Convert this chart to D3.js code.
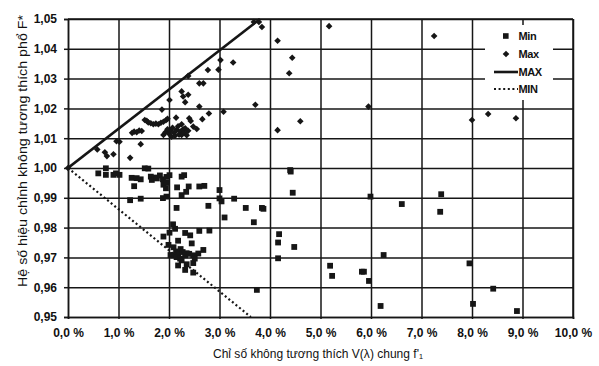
<!DOCTYPE html>
<html>
<head>
<meta charset="utf-8">
<script src="https://cdn.jsdelivr.net/npm/d3@7"></script>
<style>
  body { margin: 0; background: #fff; }
  text { font-family: "Liberation Sans", Arial, sans-serif; fill: #111; }
</style>
</head>
<body>
<div id="chart"></div>
<script>
// f1 in %, F* correction factor
var minPoints = [
  [0.60,0.9982],[0.75,0.9999],[0.75,0.9977],[0.90,0.9977],[0.95,0.9982],[1.02,0.9977],
  [1.23,0.9892],[1.31,0.9939],[1.26,0.9967],[1.36,0.9966],[1.44,0.9962],[1.44,0.9897],
  [1.52,0.9999],[1.59,0.9998],[1.64,0.9971],[1.66,0.9960],[1.72,0.9968],[1.76,0.9965],
  [1.82,0.9975],[1.88,0.9962],[1.89,0.9944],[1.95,0.9970],[2.01,0.9976],[1.95,0.9950],
  [1.94,0.9932],[1.88,0.9899],[1.95,0.9904],[2.16,0.9935],[2.25,0.9971],[2.30,0.9976],
  [2.25,0.9909],[2.34,0.9920],[2.39,0.9938],[2.60,0.9938],[2.70,0.9940],
  [2.15,0.9866],[2.78,0.9873],[3.00,0.9926],[3.00,0.9898],[3.04,0.9888],[3.10,0.9834],
  [3.29,0.9897],[3.52,0.9866],[3.68,0.9818],[3.84,0.9866],[3.87,0.9863],[3.74,0.9591],
  [2.08,0.9811],[2.12,0.9796],[1.89,0.9770],[2.01,0.9783],[1.99,0.9742],[2.18,0.9756],
  [2.32,0.9782],[2.42,0.9774],[2.45,0.9747],[2.60,0.9789],[2.80,0.9790],[2.68,0.9725],
  [2.58,0.9713],[2.09,0.9734],[2.14,0.9720],[2.18,0.9712],[2.23,0.9728],[2.27,0.9718],
  [2.09,0.9707],[2.15,0.9701],[2.22,0.9696],[2.32,0.9707],[2.35,0.9714],[2.40,0.9712],
  [2.48,0.9707],[2.51,0.9696],[2.03,0.9708],[2.25,0.9690],[2.18,0.9673],[2.35,0.9677],
  [2.48,0.9681],[2.32,0.9658],[2.48,0.9649],
  [4.18,0.9778],[4.16,0.9750],[4.16,0.9697],[4.48,0.9735],[4.40,0.9993],[4.41,0.9988],
  [4.45,0.9917],[5.19,0.9672],[5.23,0.9638],[5.82,0.9652],[5.86,0.9652],[5.96,0.9621],
  [5.99,0.9904],[6.19,0.9537],[6.25,0.9708],[6.61,0.9879],[7.39,0.9912],[7.37,0.9853],
  [7.95,0.9680],[8.02,0.9544],[8.42,0.9595],[8.89,0.9520]
];

var maxPoints = [
  [0.00,1.0000],[0.58,1.0062],[0.73,1.0053],[0.77,1.0040],[0.90,1.0046],[0.96,1.0090],
  [1.02,1.0088],[1.23,1.0034],[1.27,1.0118],[1.31,1.0122],[1.36,1.0120],[1.41,1.0126],
  [1.46,1.0124],[1.44,1.0080],[1.52,1.0161],[1.56,1.0158],[1.59,1.0153],[1.64,1.0150],
  [1.69,1.0147],[1.74,1.0149],[1.79,1.0147],[1.84,1.0152],[1.89,1.0155],[1.94,1.0160],
  [1.97,1.0165],[1.86,1.0196],[2.01,1.0228],[2.14,1.0169],
  [1.89,1.0111],[1.93,1.0120],[1.97,1.0130],[2.00,1.0115],[2.03,1.0125],[2.05,1.0105],
  [2.07,1.0135],[2.10,1.0118],[2.12,1.0108],[2.15,1.0128],[2.18,1.0140],[2.20,1.0112],
  [2.22,1.0122],[2.25,1.0111],[2.25,1.0147],[2.28,1.0130],[2.30,1.0118],[2.32,1.0133],
  [2.35,1.0110],[2.38,1.0125],[2.40,1.0167],[2.43,1.0158],[2.48,1.0139],[2.55,1.0131],
  [2.25,1.0257],[2.28,1.0240],[2.32,1.0221],[2.38,1.0246],[2.38,1.0309],
  [2.60,1.0206],[2.60,1.0284],[2.68,1.0284],[2.66,1.0164],[2.79,1.0183],[2.77,1.0329],
  [2.98,1.0330],[3.02,1.0362],[3.08,1.0189],[3.27,1.0354],
  [3.68,1.0490],[3.78,1.0490],[3.84,1.0473],[3.71,1.0212],
  [4.15,1.0427],[4.44,1.0370],[4.38,1.0318],[4.15,1.0127],[4.60,1.0157],
  [5.17,1.0476],[5.95,1.0206],[7.25,1.0443],[8.00,1.0161],[8.32,1.0181],[8.87,1.0167]
];

var maxLine = [[0, 1.00], [3.8, 1.05]];
var minLine = [[0, 1.00], [3.62, 0.95]];

var xTicks = [0,1,2,3,4,5,6,7,8,9,10];
var xTickLabels = ["0,0 %","1,0 %","2,0 %","3,0 %","4,0 %","5,0 %","6,0 %","7,0 %","8,0 %","9,0 %","10,0 %"];
var yTicks = [0.95,0.96,0.97,0.98,0.99,1.00,1.01,1.02,1.03,1.04,1.05];
var yTickLabels = ["0,95","0,96","0,97","0,98","0,99","1,00","1,01","1,02","1,03","1,04","1,05"];

var legendItems = ["Min", "Max", "MAX", "MIN"];
var xTitle = "Chỉ số không tương thích V(λ) chung f'₁";
var yTitle = "Hệ số hiệu chỉnh không tương thích phổ F*";

function init() {
  var w = 599, h = 366;
  var left = 68, right = 573, top = 19, bottom = 317;
  var ink = "#161616";

  var xscale = d3.scaleLinear().domain([0, 10]).range([left, right]);
  var yscale = d3.scaleLinear().domain([0.95, 1.05]).range([bottom, top]);

  var svg = d3.select("#chart").append("svg")
    .attr("width", w).attr("height", h);

  // grid
  svg.append("g")
    .attr("transform", "translate(" + left + ",0)")
    .call(d3.axisLeft(yscale).tickValues(yTicks).tickSize(-(right - left)).tickFormat(""))
    .call(function(g) { g.select(".domain").remove(); })
    .selectAll("line").attr("stroke", ink).attr("stroke-width", 1.5);

  svg.append("g")
    .attr("transform", "translate(0," + bottom + ")")
    .call(d3.axisBottom(xscale).tickValues(xTicks).tickSize(-(bottom - top)).tickFormat(""))
    .call(function(g) { g.select(".domain").remove(); })
    .selectAll("line").attr("stroke", ink).attr("stroke-width", 1.5);

  // legend box (white, covers the grid)
  svg.append("rect")
    .attr("x", 485).attr("y", 25).attr("width", 68).attr("height", 75)
    .attr("fill", "#fff");

  // axes with labels
  var yAxis = svg.append("g")
    .attr("transform", "translate(" + left + ",0)")
    .call(d3.axisLeft(yscale).tickValues(yTicks).tickSize(4).tickPadding(7)
      .tickFormat(function(d, i) { return yTickLabels[i]; }));
  yAxis.select(".domain").attr("stroke", ink).attr("stroke-width", 1.5);
  yAxis.selectAll("line").attr("stroke", ink).attr("stroke-width", 1.5);
  yAxis.selectAll("text")
    .style("font-family", "'Liberation Sans', Arial, sans-serif")
    .style("font-size", "12px").style("font-weight", "bold").attr("fill", ink);

  var xAxis = svg.append("g")
    .attr("transform", "translate(0," + bottom + ")")
    .call(d3.axisBottom(xscale).tickValues(xTicks).tickSize(2).tickPadding(9)
      .tickFormat(function(d, i) { return xTickLabels[i]; }));
  xAxis.select(".domain").attr("stroke", ink).attr("stroke-width", 1.5);
  xAxis.selectAll("line").attr("stroke", ink).attr("stroke-width", 1.5);
  xAxis.selectAll("text")
    .style("font-family", "'Liberation Sans', Arial, sans-serif")
    .style("font-size", "12px").style("font-weight", "bold").attr("fill", ink);

  // top and right border
  svg.append("line").attr("x1", left).attr("x2", right).attr("y1", top).attr("y2", top)
    .attr("stroke", ink).attr("stroke-width", 1.5);
  svg.append("line").attr("x1", right).attr("x2", right).attr("y1", top).attr("y2", bottom)
    .attr("stroke", ink).attr("stroke-width", 1.5);

  // clip for lines
  svg.append("clipPath").attr("id", "plot")
    .append("rect").attr("x", left).attr("y", top - 2)
    .attr("width", right - left).attr("height", bottom - top + 2);

  var line = d3.line()
    .x(function(d) { return xscale(d[0]); })
    .y(function(d) { return yscale(d[1]); });

  svg.append("path").datum(maxLine)
    .attr("d", line).attr("fill", "none")
    .attr("stroke", ink).attr("stroke-width", 2.6)
    .attr("clip-path", "url(#plot)");

  svg.append("path").datum(minLine)
    .attr("d", line).attr("fill", "none")
    .attr("stroke", ink).attr("stroke-width", 2.2)
    .attr("stroke-dasharray", "2,2.6")
    .attr("clip-path", "url(#plot)");

  // Min squares
  svg.selectAll("rect.min")
    .data(minPoints)
    .enter()
    .append("rect")
    .attr("class", "min")
    .attr("x", function(d) { return xscale(d[0]) - 2.9; })
    .attr("y", function(d) { return yscale(d[1]) - 2.9; })
    .attr("width", 5.8).attr("height", 5.8)
    .attr("fill", ink);

  // Max diamonds
  var diamond = "M0,-3.3L3.3,0L0,3.3L-3.3,0Z";
  svg.selectAll("path.max")
    .data(maxPoints)
    .enter()
    .append("path")
    .attr("class", "max")
    .attr("d", diamond)
    .attr("transform", function(d) {
      return "translate(" + xscale(d[0]) + "," + yscale(d[1]) + ")";
    })
    .attr("fill", ink);

  // legend
  var lg = svg.append("g");
  var rowY = [36, 54, 72, 89];
  lg.append("rect").attr("x", 503).attr("y", rowY[0] - 2.8)
    .attr("width", 5.6).attr("height", 5.6).attr("fill", ink);
  lg.append("path").attr("d", diamond)
    .attr("transform", "translate(506," + rowY[1] + ")").attr("fill", ink);
  lg.append("line").attr("x1", 494).attr("x2", 518).attr("y1", rowY[2]).attr("y2", rowY[2])
    .attr("stroke", ink).attr("stroke-width", 2.6);
  lg.append("line").attr("x1", 494).attr("x2", 518).attr("y1", rowY[3]).attr("y2", rowY[3])
    .attr("stroke", ink).attr("stroke-width", 2).attr("stroke-dasharray", "2,2.6");
  lg.selectAll("text")
    .data(legendItems)
    .enter()
    .append("text")
    .attr("x", 518.5)
    .attr("y", function(d, i) { return rowY[i] + 4; })
    .style("font-size", "11px").style("font-weight", "bold")
    .style("letter-spacing", "-0.4px")
    .text(function(d) { return d; });

  // axis titles
  svg.append("text")
    .attr("x", 213).attr("y", 358)
    .attr("textLength", 210).attr("lengthAdjust", "spacingAndGlyphs")
    .style("font-size", "12.5px")
    .text(xTitle);

  svg.append("text")
    .attr("transform", "translate(27,287) rotate(-90)")
    .attr("textLength", 272).attr("lengthAdjust", "spacingAndGlyphs")
    .style("font-size", "13.5px")
    .text(yTitle);
}
window.onload = init;
</script>
</body>
</html>
